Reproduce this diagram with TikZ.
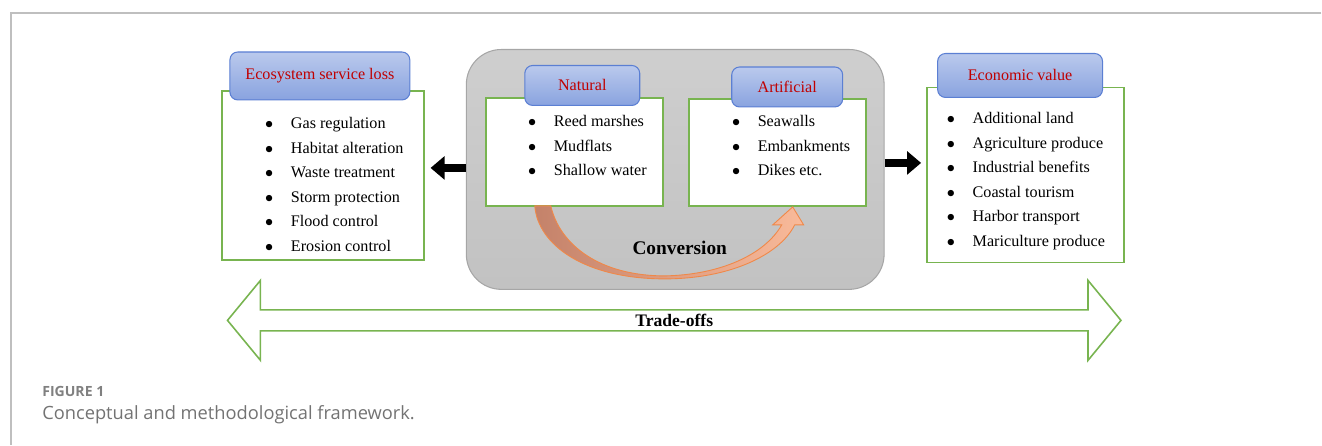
\documentclass[tikz,border=0pt]{standalone}
\usepackage{fontspec}
\setmainfont{Liberation Serif}
\newfontfamily\capfont{Open Sans}
\usetikzlibrary{arrows.meta,positioning,calc,shapes.arrows}

\definecolor{boxgreen}{HTML}{78B450}
\definecolor{hdrblue}{HTML}{5B7FD3}
\definecolor{hdrred}{HTML}{C00000}
\definecolor{capgray}{HTML}{808080}
\definecolor{convdark}{HTML}{C4826A}
\definecolor{convlight}{HTML}{F9BA9A}
\definecolor{convedge}{HTML}{F08848}

\newcommand{\blist}[1]{\fontsize{9.2}{13.95}\selectfont
  \begin{tabular}[t]{@{}c@{\hspace{10pt}}l@{}}#1\end{tabular}}
\newcommand{\bi}{$\bullet$ &}

\begin{document}
\begin{tikzpicture}[
    x=0.02cm, y=-0.02cm,
    gbox/.style={draw=boxgreen, fill=white, line width=0.9pt, inner sep=0pt},
    hdr/.style={draw=hdrblue, line width=0.6pt, rounded corners=4.5pt, top color=hdrblue!42, bottom color=hdrblue!72,
      text=hdrred, font=\fontsize{9.2}{11}\selectfont, inner sep=0pt},
    lst/.style={anchor=base west, inner sep=0pt, align=left},
    blk/.style={line width=5pt, -{Triangle[length=8pt, width=13pt]}},
]
  % frame of the page
  \draw[gray!50, line width=0.6pt] (1322,13) -- (11,13) -- (11,445);
  \useasboundingbox (0,0) rectangle (1322,445);

  % conversion block
  \node[draw=gray!70, line width=0.6pt, rounded corners=0.7cm, top color=gray!38, bottom color=gray!48,
    minimum width=8.36cm, minimum height=4.8cm] (grey) at (675.5,169.5) {};

  \node[gbox, minimum width=3.54cm, minimum height=2.16cm] (nat) at (574.5,152) {};
  \node[gbox, minimum width=3.54cm, minimum height=2.14cm] (art) at (778,152.5) {};
  \node[hdr, minimum width=2.3cm, minimum height=0.8cm] (nathdr) at (582.5,85.5) {Natural};
  \node[hdr, minimum width=2.22cm, minimum height=0.8cm] (arthdr) at (787.5,87) {Artificial};
  \node[lst] (natlist) at (528,127) {\blist{\bi Reed marshes\\ \bi Mudflats\\ \bi Shallow water}};
  \node[lst] (artlist) at (732,127) {\blist{\bi Seawalls\\ \bi Embankments\\ \bi Dikes etc.}};

  % curved conversion arrow
  \draw[draw=convedge, line width=0.5pt, left color=convdark, right color=convlight]
    (535,206) .. controls (538,245) and (585,279) .. (665,279)
    .. controls (730,279) and (780,255) .. (795,225) -- (804,225) -- (793,207) -- (773,225) -- (782,225)
    .. controls (765,255) and (720,275) .. (665,276)
    .. controls (600,276) and (560,245) .. (551,206) -- cycle;
  \node[font=\bfseries\fontsize{11}{13}\selectfont] (conv) at (680,248) {Conversion};

  % ecosystem service loss
  \node[gbox, minimum width=4.04cm, minimum height=3.38cm] (esl) at (323,175.5) {};
  \node[hdr, minimum width=3.6cm, minimum height=0.96cm] (eslhdr) at (320,76) {Ecosystem service loss};
  \node[lst] (esllist) at (265,129) {\blist{\bi Gas regulation\\ \bi Habitat alteration\\ \bi Waste treatment\\
    \bi Storm protection\\ \bi Flood control\\ \bi Erosion control}};

  % economic value
  \node[gbox, minimum width=3.94cm, minimum height=3.5cm] (econ) at (1026,175) {};
  \node[hdr, minimum width=3.3cm, minimum height=0.88cm] (econhdr) at (1020.5,75.5) {Economic value};
  \node[lst] (econlist) at (947,124) {\blist{\bi Additional land\\ \bi Agriculture produce\\ \bi Industrial benefits\\
    \bi Coastal tourism\\ \bi Harbor transport\\ \bi Mariculture produce}};

  % black arrows
  \draw[blk, shorten >=3.4pt] ($(grey.west)+(0,-1.5)$) -- ($(grey.west -| esl.east)+(0,-1.5)$);
  \draw[blk, shorten >=3pt] ($(grey.east)+(0,-6.5)$) -- ($(grey.east -| econ.west)+(0,-6.5)$);

  % trade-offs
  \node[double arrow, draw=boxgreen, line width=0.9pt, fill=white, minimum height=17.88cm, minimum width=1.6cm,
    double arrow head extend=0.4cm, double arrow tip angle=101, inner sep=0pt,
    font=\bfseries\fontsize{10}{12}\selectfont] (trade) at (674.5,320.5) {Trade-offs};

  % caption
  \node[anchor=west, inner sep=0pt, text=capgray, font=\capfont\bfseries\fontsize{8}{10}\selectfont] (figlbl) at (42,392) {FIGURE 1};
  \node[anchor=west, inner sep=0pt, text=capgray!90!black, font=\capfont\fontsize{10.4}{12}\selectfont] (figcap) at (42,415)
    {Conceptual and methodological framework.};
\end{tikzpicture}
\end{document}
